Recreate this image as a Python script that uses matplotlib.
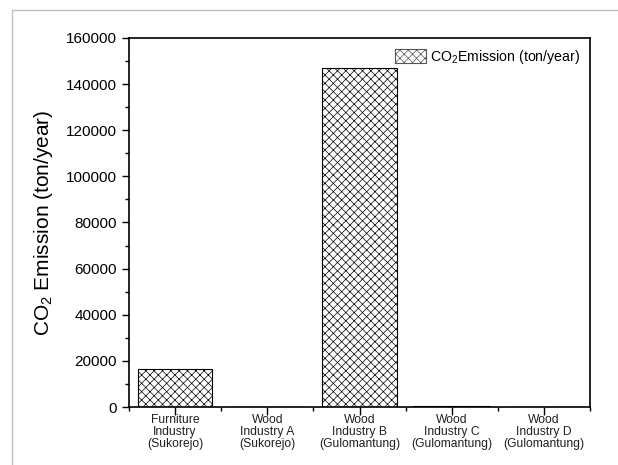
import matplotlib.pyplot as plt
import numpy as np
from matplotlib.patches import Rectangle
from matplotlib.ticker import MultipleLocator, FixedLocator

plt.rcParams['font.family'] = ['Liberation Sans', 'DejaVu Sans']
plt.rcParams['mathtext.fontset'] = 'custom'
plt.rcParams['mathtext.rm'] = 'Liberation Sans'
plt.rcParams['mathtext.it'] = 'Liberation Sans'
plt.rcParams['hatch.linewidth'] = 0.5

# data
categories = ['Furniture\nIndustry\n(Sukorejo)', 'Wood\nIndustry A\n(Sukorejo)',
              'Wood\nIndustry B\n(Gulomantung)', 'Wood\nIndustry C\n(Gulomantung)',
              'Wood\nIndustry D\n(Gulomantung)']
emission = [16500, 40, 147000, 250, 30]

fig = plt.figure(figsize=(6.18, 4.65), dpi=100)
# light grey page frame
fig.patches.append(Rectangle((12/618, -0.1), 1.2, (465 - 10)/465 + 0.1,
                             transform=fig.transFigure, fill=False,
                             edgecolor='#c0c0c0', linewidth=1.0))

ax = fig.add_axes([129/618, 58/465, 461/618, 369/465])
x = np.arange(len(categories))
ax.bar(x, emission, width=0.81, color='white', edgecolor='black',
       hatch='xxxx', linewidth=0.8, label='CO$_2$Emission (ton/year)')

ax.set_xlim(-0.5, 4.5)
ax.set_ylim(0, 160000)
ax.set_xticks(x)
ax.set_xticklabels(categories, fontsize=8.7, color='#222222', linespacing=1.0)
ax.xaxis.set_minor_locator(FixedLocator(np.arange(-0.5, 5, 1.0)))
ax.yaxis.set_major_locator(MultipleLocator(20000))
ax.yaxis.set_minor_locator(MultipleLocator(10000))
ax.tick_params(axis='y', which='major', direction='out', length=5, width=1, labelsize=11)
ax.tick_params(axis='y', which='minor', direction='out', length=3, width=1)
ax.tick_params(axis='x', which='major', direction='out', length=6, width=1, pad=-1)
ax.tick_params(axis='x', which='minor', direction='out', length=3, width=1)
for s in ax.spines.values():
    s.set_linewidth(1.2)

ax.set_ylabel('CO$_2$ Emission (ton/year)', fontsize=15, labelpad=8)

leg = ax.legend(loc='upper right', frameon=False, fontsize=10.2,
                handlelength=2.25, handleheight=1.1, borderaxespad=0.3,
                handletextpad=0.25)
for h in leg.legend_handles:
    h.set_edgecolor('#555555')

plt.savefig('out.png', dpi=100)
